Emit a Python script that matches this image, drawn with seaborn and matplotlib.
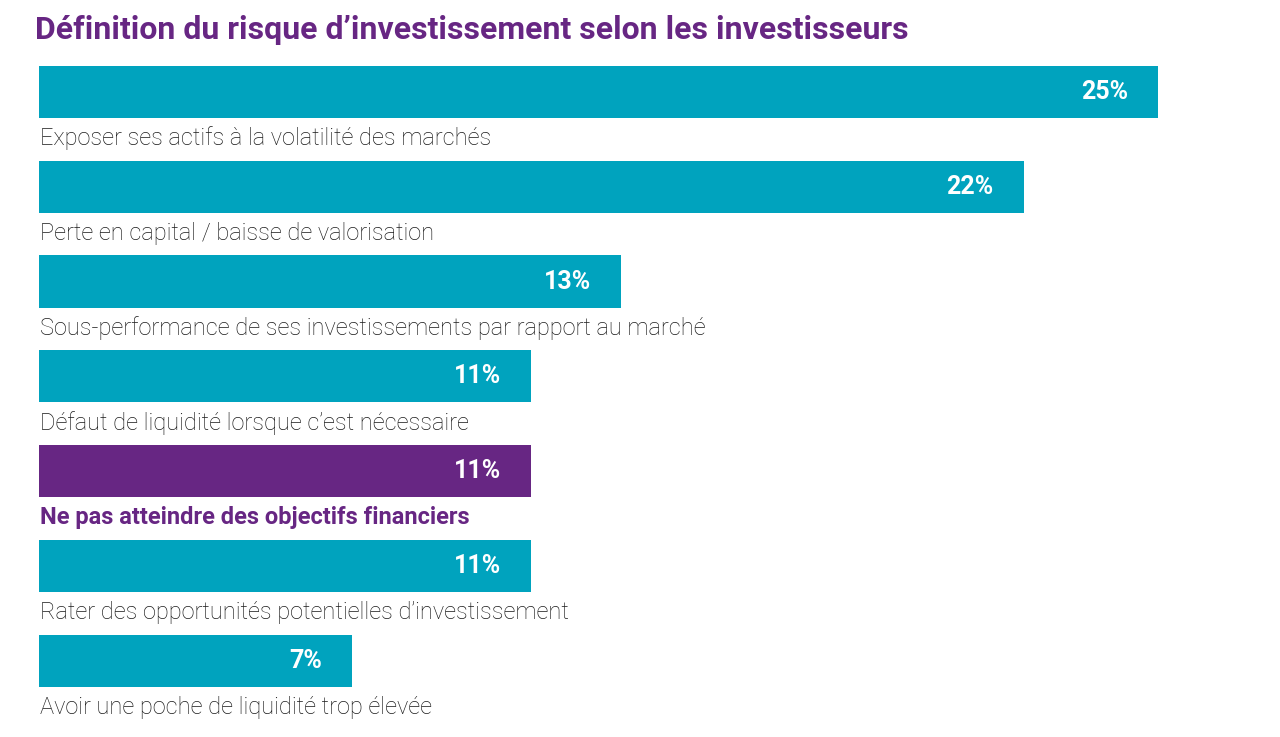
import matplotlib
matplotlib.use("Agg")
import matplotlib.pyplot as plt
import seaborn as sns
import pandas as pd

categories = ["Exposer ses actifs à la volatilité des marchés",
              "Perte en capital / baisse de valorisation",
              "Sous-performance de ses investissements par rapport au marché",
              "Défaut de liquidité lorsque c’est nécessaire",
              "Ne pas atteindre des objectifs financiers",
              "Rater des opportunités potentielles d’investissement",
              "Avoir une poche de liquidité trop élevée"]
values = [25, 22, 13, 11, 11, 11, 7]
highlight = [False, False, False, False, True, False, False]

TEAL = "#00A3BE"
PURPLE = "#672683"

df = pd.DataFrame({"cat": categories, "val": values})
plt.rcParams["font.family"] = "Roboto"
fig = plt.figure(figsize=(12.8, 7.37), dpi=100)
ax = fig.add_axes([39/1280, 0, 1 - 39/1280, 1])
palette = [PURPLE if h else TEAL for h in highlight]
sns.barplot(data=df, y="cat", x="val", hue="cat", palette=palette, legend=False,
            orient="h", width=0.55, ax=ax, saturation=1)
ax.set_xlim(0, (1280 - 39) / 44.76)
ax.set_ylim(6.804, -0.970)
ax.axis("off")
for i, (c, v, h) in enumerate(zip(categories, values, highlight)):
    ax.text(v - 0.67, i, f"{v}%", color="white", fontsize=18, fontweight="bold",
            ha="right", va="center")
    ax.text(0.02, i + 0.49, c, color=PURPLE if h else "#1a1a1a", fontsize=17,
            fontweight="bold" if h else "light", ha="left", va="center")
fig.text(35/1280, 1 - 30/737, "Définition du risque d’investissement selon les investisseurs",
         color=PURPLE, fontsize=23, fontweight="bold", ha="left", va="center")
fig.savefig("out.png", dpi=100, facecolor="white")
